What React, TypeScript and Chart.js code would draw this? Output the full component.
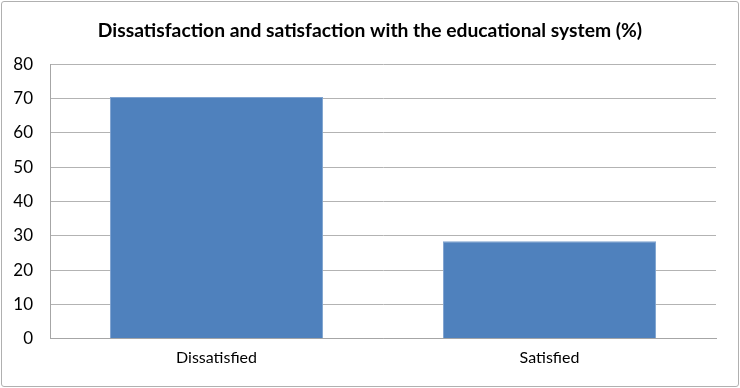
import React, { useEffect, useRef } from "react";
import { Chart, registerables } from "chart.js";

Chart.register(...registerables);

const categories = ["Dissatisfied", "Satisfied"];
const values = [70.4, 28.4];
const titleText = "Dissatisfaction and satisfaction with the educational system (%)";

export default function App() {
  const ref = useRef<HTMLCanvasElement>(null);
  useEffect(() => {
    document.body.style.margin = "0";
    const chart = new Chart(ref.current!, {
      type: "bar",
      data: {
        labels: categories,
        datasets: [
          {
            data: values,
            backgroundColor: "#4f81bd",
            borderColor: "#7fa3d0",
            borderWidth: 1,
            categoryPercentage: 0.64,
            barPercentage: 1,
          },
        ],
      },
      options: {
        animation: false,
        responsive: false,
        layout: { padding: { left: 0, right: 0, top: 0, bottom: 12 } },
        plugins: {
          legend: { display: false },
          tooltip: { enabled: false },
          title: {
            display: true,
            text: titleText,
            color: "#000",
            font: { family: "Lato", size: 19.3, weight: "bold" },
            padding: { top: 19, bottom: 22 },
          },
        },
        scales: {
          x: {
            grid: { display: false, drawTicks: false },
            border: { color: "#a6a6a6", width: 1 },
            ticks: { color: "#000", font: { family: "Lato", size: 16 }, padding: 9 },
          },
          y: {
            min: 0,
            max: 80,
            afterFit: (s: any) => {
              s.width = 50;
            },
            grid: { color: "#b3b3b3", drawTicks: false, lineWidth: 1 },
            border: { color: "#a6a6a6", width: 1 },
            ticks: { stepSize: 10, color: "#000", font: { family: "Lato", size: 17 }, padding: 17 },
          },
          yRight: {
            position: "right",
            min: 0,
            max: 80,
            afterFit: (s: any) => {
              s.width = 24;
            },
            grid: { display: false, drawTicks: false },
            border: { display: false },
            ticks: { display: false },
          },
        },
      },
    });
    return () => chart.destroy();
  }, []);
  return (
    <div style={{ position: "relative", width: 740, height: 388 }}>
      <canvas ref={ref} width={740} height={388} style={{ display: "block" }} />
      <div
        style={{
          position: "absolute",
          left: 1,
          top: 1,
          width: 736,
          height: 384,
          border: "1px solid #b0b0b0",
          borderRadius: 3,
          pointerEvents: "none",
        }}
      />
    </div>
  );
}
